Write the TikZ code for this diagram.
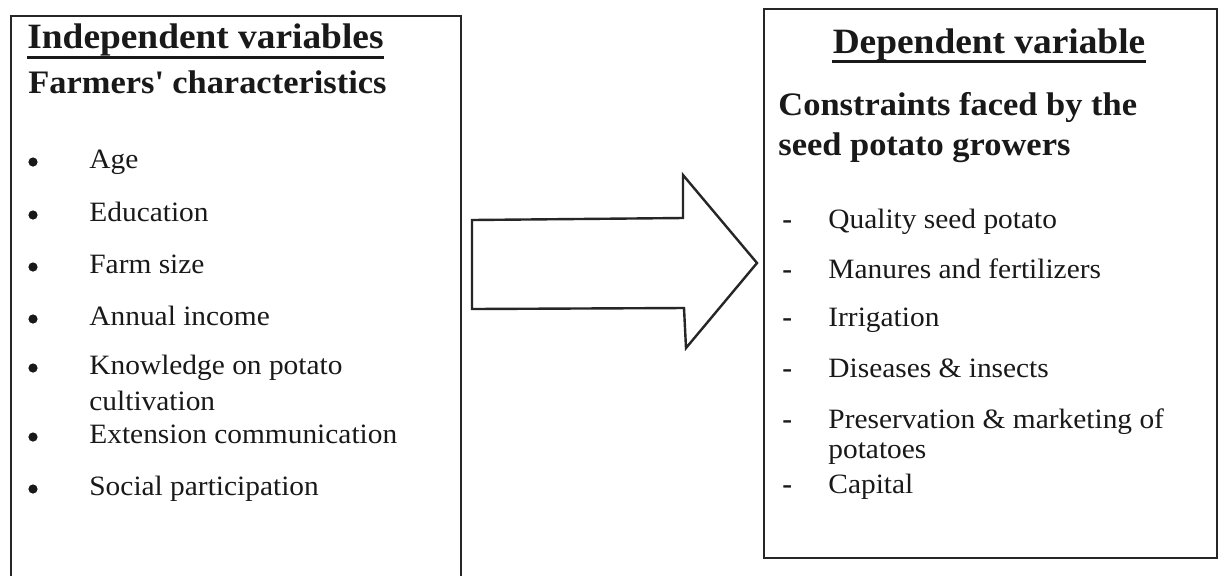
\documentclass[tikz,border=0pt]{standalone}
\usepackage{fontspec}
\setmainfont{Liberation Serif}[FakeStretch=1.05]
\begin{document}
\begin{tikzpicture}[x=0.5pt,y=-0.5pt,
  box/.style={line width=1.2pt, draw=black!85, line join=miter},
  headu/.style={font=\fontsize{17.8}{20}\selectfont\bfseries, inner sep=0pt, text=black!90},
  headb/.style={font=\fontsize{16.4}{19}\selectfont\bfseries, anchor=base west, inner sep=0pt, text=black!90},
  itemtext/.style={font=\fontsize{14}{16}\selectfont, anchor=base west, inner sep=0pt, text=black!90},
  dashtext/.style={font=\fontsize{14}{16}\selectfont\bfseries, anchor=base west, inner sep=0pt, text=black!90},
  dot/.style={circle, fill=black!90, inner sep=0pt, minimum size=4.6pt},
  uline/.style={line width=1.5pt, draw=black!90}
]
\useasboundingbox (0,0) rectangle (1229,575);
\fill[white] (0,0) rectangle (1229,575);

% left box (open at bottom edge of picture)
\coordinate (lbl) at (11,578);
\coordinate (ltl) at (11,16);
\coordinate (ltr) at (461,16);
\coordinate (lbr) at (461,578);
\draw[box] (lbl) -- (ltl) -- (ltr) -- (lbr);

\node[headu, anchor=base west] (h1) at (27,48) {Independent variables};
\draw[uline] ([yshift=-4.5pt]h1.base west) -- ([yshift=-4.5pt]h1.base east);
\node[headb] (h2) at (28,93) {Farmers\textquotesingle{} characteristics};

\foreach \n/\yy/\t in {a/168/Age, b/221/Education, c/273/Farm size, d/325/Annual income, e/374/Knowledge on potato, g/443/Extension communication, h/495/Social participation}{
  \node[dot] (b\n) at (33,\yy-6) {};
  \node[itemtext] (t\n) at (89,\yy) {\t};
}
\node[itemtext] (tf) at (89,410) {cultivation};

% right box
\node[box, draw, rectangle, minimum width=453*0.5pt, minimum height=549*0.5pt, inner sep=0pt] (rb) at (990.5,283.5) {};

\node[headu, anchor=base] (h3) at (989,53) {Dependent variable};
\draw[uline] ([yshift=-4pt]h3.base west) -- ([yshift=-4pt]h3.base east);
\node[headb] (h4) at (778,115) {Constraints faced by the};
\node[headb] (h5) at (778,155) {seed potato growers};

\foreach \n/\yy/\t in {a/228/Quality seed potato, b/278/Manures and fertilizers, c/326/Irrigation, d/377/Diseases \& insects, e/428/Preservation \& marketing of, g/493/Capital}{
  \node[dashtext] (d\n) at (782,\yy) {-};
  \node[itemtext] (r\n) at (828,\yy) {\t};
}
\node[itemtext] (rf) at (828,458) {potatoes};

% big block arrow
\draw[box, fill=white] (472,220) -- (683,218) -- (683,175) -- (757,263) -- (686,348) -- (684,308) -- (472,309) -- cycle;
\end{tikzpicture}
\end{document}
